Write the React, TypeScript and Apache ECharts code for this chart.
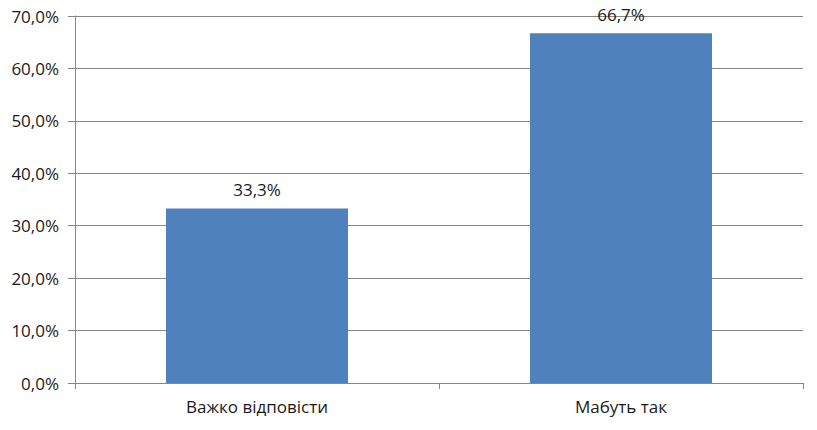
import React, { useEffect, useRef } from "react";
import * as echarts from "echarts";

const categories = ["Важко відповісти", "Мабуть так"];
const values = [33.3, 66.7];
const yMin = 0;
const yMax = 70;
const yInterval = 10;

const fmt = (v: number) => v.toFixed(1).replace(".", ",") + "%";

export default function App() {
  const ref = useRef<HTMLDivElement>(null);
  useEffect(() => {
    document.body.style.margin = "0";
    const chart = echarts.init(ref.current!, null, { renderer: "svg" });
    const font = "'Open Sans', 'Noto Sans', sans-serif";
    chart.setOption({
      animation: false,
      backgroundColor: "#ffffff",
      grid: {
        left: 75,
        right: 14,
        top: 16,
        bottom: 47,
        containLabel: false,
        outerBoundsMode: "none",
      },
      xAxis: {
        type: "category",
        data: categories,
        axisLine: { lineStyle: { color: "#868686", width: 1 } },
        axisTick: { show: true, alignWithLabel: false, length: 6, lineStyle: { color: "#868686" } },
        axisLabel: { color: "#1a1a1a", fontSize: 17, fontFamily: font, margin: 15 },
        splitLine: { show: false },
      },
      yAxis: {
        type: "value",
        min: yMin,
        max: yMax,
        interval: yInterval,
        axisLine: { show: true, lineStyle: { color: "#868686", width: 1 } },
        axisTick: { show: true, length: 7, lineStyle: { color: "#868686" } },
        axisLabel: {
          color: "#1a1a1a",
          fontSize: 17,
          fontFamily: font,
          margin: 16,
          formatter: (v: number) => fmt(v),
        },
        splitLine: { show: true, lineStyle: { color: "#868686", width: 1 } },
      },
      series: [
        {
          type: "bar",
          data: values,
          barWidth: "50%",
          itemStyle: { color: "#4F81BD" },
          label: {
            show: true,
            position: "top",
            distance: 10,
            color: "#1a1a1a",
            fontSize: 17,
            fontFamily: font,
            formatter: (p: any) => fmt(p.value),
          },
        },
      ],
    });
    return () => chart.dispose();
  }, []);
  return <div ref={ref} style={{ width: 817, height: 430 }} />;
}
